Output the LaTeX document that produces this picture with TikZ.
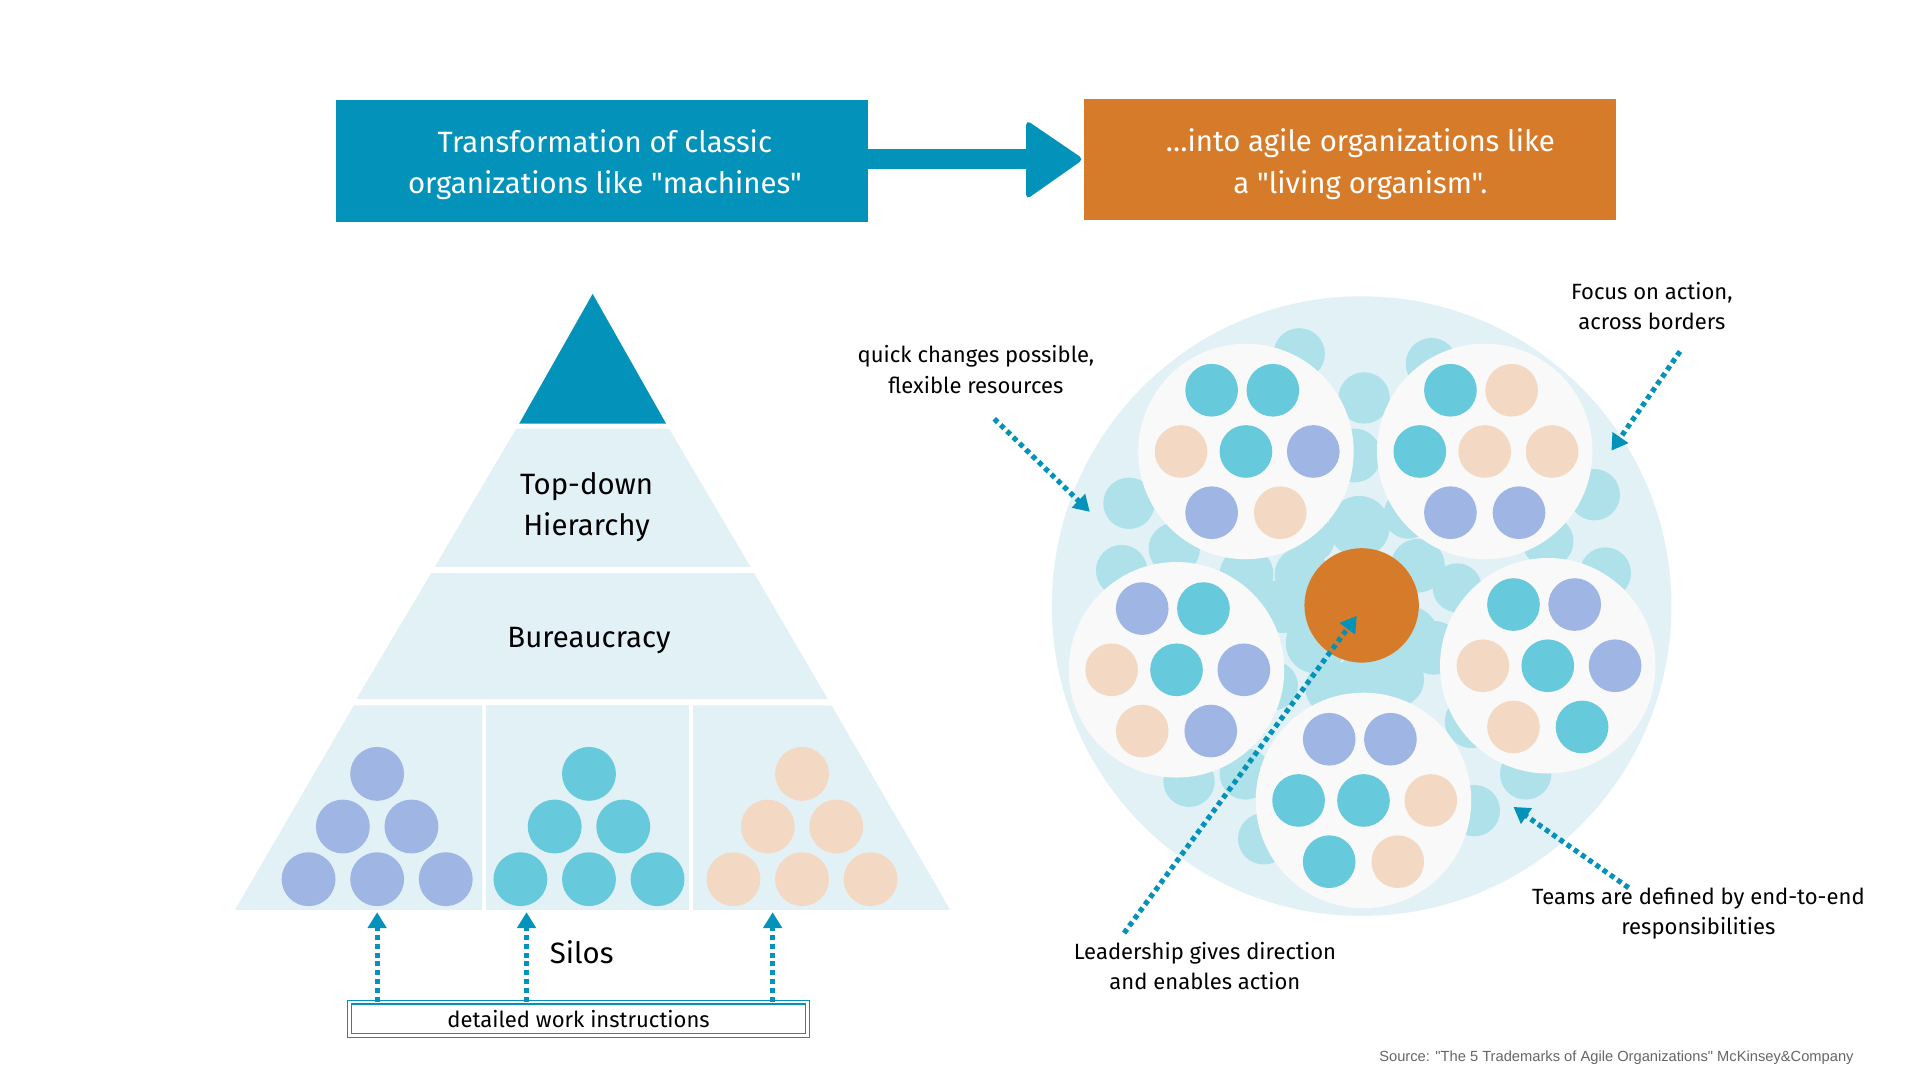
\documentclass[tikz,border=0pt]{standalone}
\usepackage{fontspec}
\setmainfont{Fira Sans}[Ligatures=TeXOff]
\newfontfamily\srcfont{Liberation Sans}[Ligatures=TeXOff]
\usetikzlibrary{arrows.meta}
\definecolor{cblue}{HTML}{0393BA}
\definecolor{corange}{HTML}{D67B2A}
\definecolor{cpale}{HTML}{E2F1F6}
\definecolor{cbg}{HTML}{AFE1EA}
\definecolor{cteal}{HTML}{66C9DC}
\definecolor{cviol}{HTML}{9FB5E3}
\definecolor{cpeach}{HTML}{F3D9C3}
\definecolor{cwhite}{HTML}{F9F9F9}
\tikzset{
 dotarrow/.style={cblue,line width=4.2pt,dash pattern=on 4pt off 3.2pt,-{Triangle[length=13pt,width=15pt]}, shorten >=0pt},
 lbl/.style={font=\fontsize{18}{25}\selectfont,align=center},
 big/.style={font=\fontsize{24}{34}\selectfont,align=center},
 hbox/.style={minimum width=435pt,minimum height=99pt,text=white,font=\fontsize{24}{34}\selectfont,align=center,inner sep=0pt},
}
\begin{document}
\begin{tikzpicture}[x=1pt,y=-1pt]
\useasboundingbox[fill=white] (0,0) rectangle (1568,882);
% header
\node[hbox,fill=cblue] (lbox) at (491.5,131.5) {};
\node[hbox,fill=corange] (rbox) at (1102.5,130.5) {};
\node[big,text=white] (ltxt) at (494,134.5) {Transformation of classic\\organizations like "machines"};
\node[big,text=white] (rtxt) at (1111,134) {…into agile organizations like\\a "living organism".};
\fill[cblue] (lbox.east |- 0,122) rectangle (842,138);
\fill[cblue,rounded corners=4pt] (838,98) -- (885,130) -- (838,163) -- cycle;
% pyramid
\fill[cblue] (484,240) -- (544,346) -- (424,346) -- cycle;
\fill[cpale] (546.3,350) -- (613,463) -- (355,463) -- (421.7,350) -- cycle;
\fill[cpale] (615.8,468) -- (676,571) -- (291,571) -- (352.2,468) -- cycle;
\fill[cpale] (679,576) -- (776,743) -- (566,743) -- (566,576) -- cycle;
\fill[cpale] (397,576) rectangle (563,743);
\fill[cpale] (289,576) -- (394,576) -- (394,743) -- (192,743) -- cycle;
\node[big] (th) at (479,414) {Top-down\\Hierarchy};
\node[big] (bu) at (481,523) {Bureaucracy};
\node[big] (si) at (475,778) {Silos};
\foreach \cx/\col in {308/cviol,481/cteal,655/cpeach}{
 \foreach \dx/\dy in {0/632,-28/675,28/675,-56/718,0/718,56/718}
  \fill[\col] (\cx+\dx,\dy) circle (22);
}
\node[draw=cblue,double,double distance=2pt,line width=1pt,minimum width=374pt,minimum height=27pt,font=\fontsize{18}{22}\selectfont,inner sep=0pt] (dwi) at (472.5,832) {detailed work instructions};
\coordinate (a1) at (308,745); \coordinate (a2) at (430,745); \coordinate (a3) at (631,745);
\draw[dotarrow] (dwi.north -| a1) -- (a1);
\draw[dotarrow] (dwi.north -| a2) -- (a2);
\draw[dotarrow] (dwi.north -| a3) -- (a3);
% organism
\fill[cpale] (1112,495) circle (253);
\foreach \x/\y/\r in {1061/289/21, 1114/325/21, 1169/297/21, 922/411/21, 959/448/21, 916/466/21, 1302/404/21, 1311/468/21, 1264/442/21, 1106/372/22, 1018/469/22, 1063/469/22, 1048/495/22, 1158/462/22, 1171/529/22, 1202/589/22, 1246/632/21, 1204/662/21, 1032/685/21, 971/638/21, 1017/632/21, 1141/555/22, 1088/562/22, 1070/440/20, 1150/420/20, 1110/430/25, 1075/525/25, 1150/520/25, 1112/560/25, 1040/560/20, 1190/480/20}
 \fill[cbg] (\x,\y) circle (\r);
\foreach \cx/\cy/\ca/\cb/\cc/\cd/\ce/\cf/\cg in {
 1017.5/368.7/cteal/cteal/cpeach/cteal/cviol/cviol/cpeach,
 1212.5/368.7/cteal/cpeach/cteal/cpeach/cpeach/cviol/cviol,
 960.8/547/cviol/cteal/cpeach/cteal/cviol/cpeach/cviol,
 1264/543.7/cteal/cviol/cpeach/cteal/cviol/cpeach/cteal,
 1113.5/653.7/cviol/cviol/cteal/cteal/cpeach/cteal/cpeach}{
 \fill[cwhite] (\cx,\cy) circle (88);
 \fill[\ca] (\cx-28,\cy-50) circle (21.5);
 \fill[\cb] (\cx+22,\cy-50) circle (21.5);
 \fill[\cc] (\cx-53,\cy) circle (21.5);
 \fill[\cd] (\cx,\cy) circle (21.5);
 \fill[\ce] (\cx+55,\cy) circle (21.5);
 \fill[\cf] (\cx-28,\cy+50) circle (21.5);
 \fill[\cg] (\cx+28,\cy+50) circle (21.5);
}
\fill[corange] (1112,494.4) circle (46.7);
\node[lbl] (q) at (797,302) {quick changes possible,\\flexible resources};
\node[lbl] (f) at (1349,250) {Focus on action,\\across borders};
\node[lbl] (t) at (1387,746) {Teams are defined by end-to-end\\responsibilities};
\node[lbl] (l) at (984,789) {Leadership gives direction\\and enables action};
\coordinate (qe) at (890,418); \coordinate (fe) at (1316,368);
\coordinate (te) at (1236,659); \coordinate (le) at (1108,503);
\draw[dotarrow] (812,342) -- (qe);
\draw[dotarrow] (1372,287) -- (fe);
\draw[dotarrow] (1330,725) -- (te);
\draw[dotarrow] (918,762) -- (le);
\node[font=\srcfont\fontsize{12}{14}\selectfont,text=black!60,anchor=east,inner sep=0pt] (src) at (1514,864) {Source: "The 5 Trademarks of Agile Organizations" McKinsey\&Company};
\end{tikzpicture}
\end{document}
